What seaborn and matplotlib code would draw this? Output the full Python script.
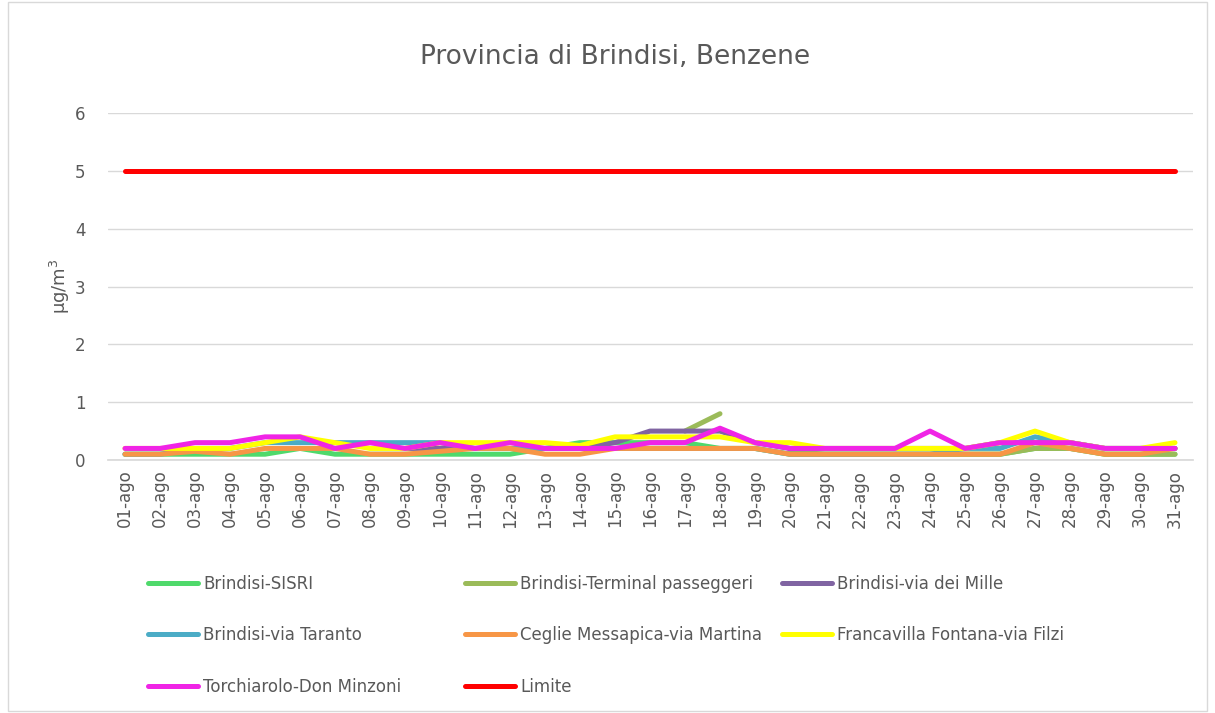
import numpy as np
import pandas as pd
import matplotlib.pyplot as plt
import seaborn as sns
from matplotlib.lines import Line2D
from matplotlib.patches import Rectangle
from matplotlib import font_manager

nan = np.nan

giorni = ['01-ago', '02-ago', '03-ago', '04-ago', '05-ago', '06-ago', '07-ago', '08-ago',
          '09-ago', '10-ago', '11-ago', '12-ago', '13-ago', '14-ago', '15-ago', '16-ago',
          '17-ago', '18-ago', '19-ago', '20-ago', '21-ago', '22-ago', '23-ago', '24-ago',
          '25-ago', '26-ago', '27-ago', '28-ago', '29-ago', '30-ago', '31-ago']

sisri = [0.1, 0.1, 0.1, 0.1, 0.1, 0.2, 0.1, 0.1, 0.1, 0.1, 0.1, 0.1, 0.2, 0.3, 0.3, 0.3,
         0.3, 0.2, 0.2, 0.1, 0.1, 0.1, 0.1, 0.1, 0.1, 0.1, 0.2, 0.2, 0.1, 0.1, 0.1]
terminal = [nan, nan, nan, nan, nan, nan, nan, nan, nan, nan, nan, nan, nan, nan, nan, nan,
            0.5, 0.8, nan, 0.15, 0.1, 0.1, 0.1, 0.1, 0.1, 0.1, 0.2, 0.2, 0.1, 0.1, 0.1]
mille = [nan, nan, nan, nan, nan, nan, nan, nan, 0.2, 0.2, 0.2, 0.2, 0.2, 0.2, 0.3, 0.5,
         0.5, 0.5, 0.3, 0.2, 0.2, 0.2, 0.2, 0.2, 0.2, 0.3, 0.3, 0.3, 0.2, 0.2, 0.2]
taranto = [0.1, 0.1, 0.2, 0.2, 0.3, 0.3, 0.3, 0.3, 0.3, 0.3, 0.2, 0.2, 0.2, 0.2, 0.2, 0.2,
           0.2, 0.2, 0.2, 0.1, 0.1, 0.1, 0.1, 0.1, 0.2, 0.2, 0.4, 0.3, 0.2, 0.2, 0.2]
ceglie = [0.1, 0.1, 0.15, 0.1, 0.2, 0.2, 0.2, 0.1, 0.1, 0.15, 0.2, 0.2, 0.1, 0.1, 0.2, 0.2,
          0.2, 0.2, 0.2, 0.1, 0.1, 0.1, 0.1, 0.1, 0.1, 0.1, 0.3, 0.2, 0.1, 0.1, 0.2]
francavilla = [0.2, 0.2, 0.2, 0.2, 0.3, 0.4, 0.3, 0.2, 0.2, 0.3, 0.3, 0.3, 0.3, 0.25, 0.4, 0.4,
               0.4, 0.4, 0.3, 0.3, 0.2, 0.2, 0.2, 0.2, 0.2, 0.3, 0.5, 0.3, 0.2, 0.2, 0.3]
torchiarolo = [0.2, 0.2, 0.3, 0.3, 0.4, 0.4, 0.2, 0.3, 0.2, 0.3, 0.2, 0.3, 0.2, 0.2, 0.2, 0.3,
               0.3, 0.55, 0.3, 0.2, 0.2, 0.2, 0.2, 0.5, 0.2, 0.3, 0.3, 0.3, 0.2, 0.2, 0.2]
limite = [5] * 31

stazioni = ['Brindisi-SISRI', 'Brindisi-Terminal passeggeri', 'Brindisi-via dei Mille',
            'Brindisi-via Taranto', 'Ceglie Messapica-via Martina', 'Francavilla Fontana-via Filzi',
            'Torchiarolo-Don Minzoni', 'Limite']
valori = [sisri, terminal, mille, taranto, ceglie, francavilla, torchiarolo, limite]
colori = ['#4fd96b', '#9bbb59', '#8064a2', '#4bacc6', '#f79646', '#ffff00', '#f024e6', '#ff0000']

# formato lungo; "tratto" separa i pezzi di serie interrotti da valori mancanti
righe = []
for nome, serie in zip(stazioni, valori):
    tratto = 0
    for i, v in enumerate(serie):
        if np.isnan(v):
            tratto += 1
            continue
        righe.append({'pos': i, 'valore': v, 'stazione': nome, 'tratto': f'{nome}_{tratto}'})
df = pd.DataFrame(righe)

sns.set_theme(style='white')
nomi_font = {f.name for f in font_manager.fontManager.ttflist}
famiglia = ['Liberation Sans Narrow', 'DejaVu Sans'] if 'Liberation Sans Narrow' in nomi_font else ['DejaVu Sans']
plt.rcParams['font.family'] = famiglia

grigio = '#595959'
fig = plt.figure(figsize=(12.15, 7.13), dpi=100)
ax = fig.add_axes([107.5 / 1215, 1 - 460 / 713, 1085 / 1215, 347 / 713])

sns.lineplot(data=df, x='pos', y='valore', hue='stazione', units='tratto', estimator=None,
             hue_order=stazioni, palette=dict(zip(stazioni, colori)), linewidth=3.6,
             sort=False, legend=False, ax=ax)

ax.set_xlim(-0.5, 30.5)
ax.set_ylim(0, 6)
ax.set_yticks(range(7))
ax.set_xticks(range(31))
ax.set_xticklabels(giorni, rotation=90)
ax.set_xticks(np.arange(-0.5, 31, 1), minor=True)
ax.tick_params(axis='x', which='major', length=0, pad=7, labelsize=12, labelcolor=grigio)
ax.tick_params(axis='x', which='minor', length=6, width=1, color='#d9d9d9', direction='out')
ax.tick_params(axis='y', length=0, pad=16, labelsize=12, labelcolor=grigio)
ax.grid(axis='y', color='#d9d9d9', linewidth=1)
ax.grid(axis='x', visible=False)
for lato in ['top', 'right', 'left']:
    ax.spines[lato].set_visible(False)
ax.spines['bottom'].set_color('#d9d9d9')
ax.set_xlabel('')
ax.set_ylabel('μg/m$^3$', fontsize=13, color=grigio, labelpad=2)

fig.text(0.506, 1 - 57 / 713, 'Provincia di Brindisi, Benzene', ha='center', va='center',
         fontsize=19, color=grigio)

# legenda in tre colonne come nell'originale
colonne = [[0, 3, 6], [1, 4, 7], [2, 5]]
x_colonne = [148, 465, 782]
for idx, xc in zip(colonne, x_colonne):
    maniglie = [Line2D([0], [0], color=colori[i], linewidth=3.6) for i in idx]
    fig.legend(maniglie, [stazioni[i] for i in idx], loc='upper left',
               bbox_to_anchor=(xc / 1215, 1 - 575 / 713), frameon=False, fontsize=12,
               labelcolor=grigio, handlelength=3.0, handletextpad=0.3, labelspacing=2.0,
               borderpad=0, borderaxespad=0)

fig.add_artist(Rectangle((8 / 1215, 2 / 713), 1199 / 1215, 709 / 713, transform=fig.transFigure,
                         fill=False, edgecolor='#d9d9d9', linewidth=1))

fig.savefig('out.png', dpi=100, facecolor='white')
